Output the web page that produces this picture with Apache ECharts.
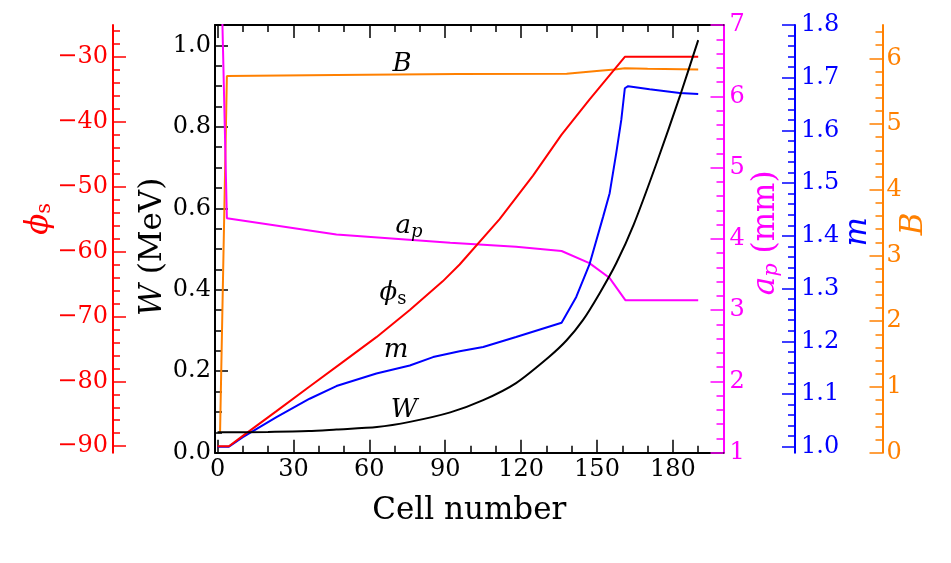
<!DOCTYPE html>
<html><head><meta charset="utf-8">
<script src="https://cdn.jsdelivr.net/npm/echarts@6/dist/echarts.min.js"></script>
<style>html,body{margin:0;padding:0;background:#fff}#c{width:951px;height:563px}</style>
</head><body><div id="c"></div>
<script>
// ---------------- data ----------------
const wCells = [0, 20, 36, 47, 63, 76, 92, 105, 118, 131, 138, 144.5, 151, 157.6, 164.5, 173.5, 182.7, 190];
const wVals  = [0.050, 0.051, 0.053, 0.057, 0.063, 0.0757, 0.099, 0.129, 0.171, 0.235, 0.276, 0.326, 0.391, 0.465, 0.56, 0.71, 0.874, 1.013];

const phiCells = [0, 4.5, 10, 23.3, 36.4, 49.6, 62.8, 76, 89, 95.7, 111.5, 124.7, 136, 147, 161, 190];
const phiVals  = [-90, -90, -88.4, -84.6, -80.8, -77.0, -73.2, -69.0, -64.6, -62.0, -55.0, -48.3, -42.0, -36.6, -30, -30];

const apCells = [0, 3.7, 47, 92, 118, 136, 147, 155, 161.2, 190];
const apVals  = [10, 4.29, 4.06, 3.946, 3.89, 3.83, 3.66, 3.45, 3.14, 3.14];

const mCells = [0, 4.5, 10, 23.3, 36.4, 47, 62.8, 76, 85.2, 95.7, 105, 118, 136, 141.8, 147.1, 152.4, 155, 157.6, 159.6, 161, 162.3, 170.8, 182.7, 190];
const mVals  = [1.0, 1.0, 1.018, 1.056, 1.091, 1.115, 1.139, 1.154, 1.170, 1.181, 1.189, 1.208, 1.235, 1.284, 1.347, 1.436, 1.481, 1.557, 1.620, 1.680, 1.684, 1.678, 1.671, 1.669];

const bCells = [1, 3.7, 47, 95, 138, 151, 157, 161, 170, 190];
const bVals  = [0.31, 5.73, 5.745, 5.76, 5.765, 5.81, 5.83, 5.85, 5.84, 5.83];

// tick values
const xMajor   = [0, 30, 60, 90, 120, 150, 180];
const wMajor   = [0, 0.2, 0.4, 0.6, 0.8, 1.0];
const phiMajor = [-90, -80, -70, -60, -50, -40, -30];
const apMajor  = [1, 2, 3, 4, 5, 6, 7];
const mMajor   = [1.0, 1.1, 1.2, 1.3, 1.4, 1.5, 1.6, 1.7, 1.8];
const bMajor   = [0, 1, 2, 3, 4, 5, 6];

// ---------------- helpers ----------------
function steps(a, b, s) { const o = []; for (let k = 0; a + k * s <= b + 1e-9; k++) o.push(+(a + k * s).toFixed(4)); return o; }
function minors(a, b, s, major) { const m = major.map(v => +v.toFixed(4)); return steps(a, b, s).filter(v => !m.includes(v)); }
const pairs = (xs, ys) => xs.map((x, i) => [x, ys[i]]);

const FF = '"DejaVu Serif", serif';
const RED = '#ff0000', MAG = '#ff00ff', BLUE = '#0000ff', ORG = '#ff8000', BLK = '#000000';
const LBL = 24, NAME = 31;

function axisPair(kind, o) {
  const major = {
    type: 'value', position: o.position, offset: o.offset || 0, min: o.min, max: o.max,
    axisLine: { show: o.line !== false, onZero: false, lineStyle: { color: o.color, width: 2 } },
    axisTick: { show: true, inside: true, length: 13, lineStyle: { color: o.color, width: 1.5 }, customValues: o.major },
    axisLabel: o.labels === false ? { show: false } : {
      show: true, customValues: o.major, margin: o.margin, color: o.color,
      fontFamily: FF, fontSize: LBL, formatter: o.fmt, showMinLabel: true, showMaxLabel: true
    },
    splitLine: { show: false }, minorTick: { show: false },
    nameMoveOverlap: false
  };
  if (o.name) {
    major.name = o.name; major.nameLocation = 'middle'; major.nameGap = o.nameGap;
    major.nameTextStyle = Object.assign({ color: o.color, fontFamily: FF, fontSize: NAME }, o.nameStyle || {});
  }
  const minor = {
    type: 'value', position: o.position, offset: o.offset || 0, min: o.min, max: o.max,
    axisLine: { show: false, onZero: false },
    axisTick: { show: true, inside: true, length: 7, lineStyle: { color: o.color, width: 1.5 }, customValues: o.minor },
    axisLabel: { show: false }, splitLine: { show: false }, minorTick: { show: false }
  };
  return [major, minor];
}

const XMIN = -1, XMAX = 200;
const xAxes = [].concat(
  axisPair('x', { position: 'bottom', min: XMIN, max: XMAX, color: BLK, major: xMajor, minor: minors(0, 190, 10, xMajor),
    margin: 5, fmt: v => String(v), name: 'Cell number', nameGap: 43 }),
  axisPair('x', { position: 'top', min: XMIN, max: XMAX, color: BLK, major: xMajor, minor: minors(0, 190, 10, xMajor), labels: false })
);

const phiFmt = v => String(v).replace('-', '\u2212');
const yAxes = [].concat(
  axisPair('y', { position: 'left', offset: 0, min: 0, max: 1.05, color: BLK, major: wMajor, minor: minors(0, 1.0, 0.05, wMajor),
    margin: 4, fmt: v => v.toFixed(1),
    name: '{i|W} (MeV)', nameGap: 47,
    nameStyle: { padding: [0, 16, 0, 0], rich: { i: { fontStyle: 'italic', fontFamily: FF, fontSize: NAME, color: BLK } } } }),
  axisPair('y', { position: 'left', offset: 102, min: -91, max: -25.1, color: RED, major: phiMajor, minor: minors(-90, -26, 2, phiMajor),
    margin: 5, fmt: phiFmt,
    name: '{i|\u03d5}{s|s}', nameGap: 58,
    nameStyle: { padding: [0, 0, 0, 40], rich: {
      i: { fontStyle: 'italic', fontFamily: FF, fontSize: NAME, color: RED },
      s: { fontFamily: FF, fontSize: 21, color: RED, padding: [12, 0, 0, 0] } } } }),
  axisPair('y', { position: 'right', offset: 0, min: 1, max: 7, color: MAG, major: apMajor, minor: minors(1, 7, 0.2, apMajor),
    margin: 6, fmt: v => String(v),
    name: '{i|a}{s|p} (mm)', nameGap: 26,
    nameStyle: { padding: [0, 0, 0, 12], rich: {
      i: { fontStyle: 'italic', fontFamily: FF, fontSize: NAME, color: MAG },
      s: { fontStyle: 'italic', fontFamily: FF, fontSize: 21, color: MAG, padding: [12, 0, 0, 0] } } } }),
  axisPair('y', { position: 'right', offset: 71.5, min: 0.9886, max: 1.8, color: BLUE, major: mMajor, minor: minors(1.0, 1.8, 0.02, mMajor),
    margin: 6, fmt: v => v.toFixed(1),
    name: 'm', nameGap: 47,
    nameStyle: { fontStyle: 'italic', padding: [0, 0, 0, 14] } }),
  axisPair('y', { position: 'right', offset: 159, min: 0, max: 6.507, color: ORG, major: bMajor, minor: minors(0, 6.4, 0.2, bMajor),
    margin: 4, fmt: v => String(v),
    name: 'B', nameGap: 16,
    nameStyle: { fontStyle: 'italic', padding: [0, 0, 0, 30] } })
);

function line(name, xs, ys, yIdx, color, smooth) {
  return { name, type: 'line', xAxisIndex: 0, yAxisIndex: yIdx, data: pairs(xs, ys), showSymbol: false, symbol: 'none',
    smooth: smooth || false, clip: true, lineStyle: { color, width: 2 }, itemStyle: { color }, animation: false };
}

const annRich = {
  i: { fontStyle: 'italic', fontFamily: FF, fontSize: 26, fill: BLK },
  r: { fontFamily: FF, fontSize: 26, fill: BLK },
  s: { fontFamily: FF, fontSize: 18, fill: BLK, padding: [12, 0, 0, 0] },
  si: { fontStyle: 'italic', fontFamily: FF, fontSize: 18, fill: BLK, padding: [12, 0, 0, 0] }
};
function ann(text, x, y) {
  return { type: 'text', x, y, silent: true, z: 100,
    style: { text, rich: annRich, align: 'center', verticalAlign: 'middle', fill: BLK, fontFamily: FF, fontSize: 26 } };
}

const chart = echarts.init(document.getElementById('c'), null, { renderer: 'canvas' });
chart.setOption({
  animation: false,
  backgroundColor: '#ffffff',
  grid: { left: 215, right: 227.5, top: 25, bottom: 110.3, containLabel: false, outerBoundsMode: 'none', show: false },
  xAxis: xAxes,
  yAxis: yAxes,
  series: [
    line('B', bCells, bVals, 8, ORG),
    line('a_p', apCells, apVals, 4, MAG),
    line('m', mCells, mVals, 6, BLUE),
    line('phi_s', phiCells, phiVals, 2, RED),
    line('W', wCells, wVals, 0, BLK, 0.25)
  ],
  graphic: [
    ann('{i|B}', 402, 64),
    ann('{i|a}{si|p}', 409, 226),
    ann('{i|\u03d5}{s|s}', 393, 293),
    ann('{i|m}', 396, 350),
    ann('{i|W}', 404, 410)
  ]
});
</script>
</body></html>
